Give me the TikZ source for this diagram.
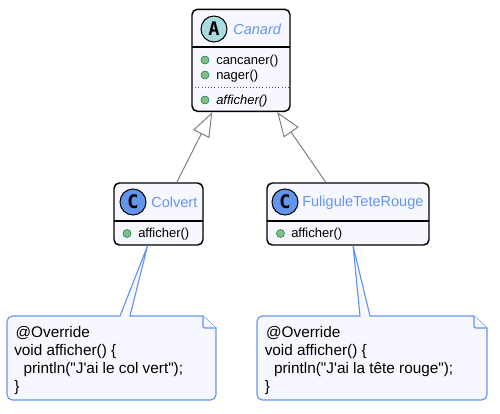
\documentclass[tikz,border=0pt]{standalone}
\usepackage{fontspec}
\setmainfont{Liberation Sans}
\newfontfamily\notefont{Liberation Sans}
\newfontfamily\spotfont{DejaVu Sans Mono}
\usetikzlibrary{arrows.meta}
\definecolor{qblue}{RGB}{100,149,237}
\definecolor{qfill}{RGB}{247,248,255}
\definecolor{qspotA}{RGB}{169,220,223}
\definecolor{qdot}{RGB}{132,190,132}
\definecolor{qdotline}{RGB}{3,128,72}
\definecolor{qgray}{RGB}{128,128,128}
\tikzset{
  classbox/.style={draw=black,fill=qfill,line width=1.1pt,rounded corners=4pt,inner sep=0pt},
  sepline/.style={draw=black,line width=0.9pt},
  spot/.style={circle,draw=black,line width=0.75pt,minimum size=19.5pt,inner sep=0pt,text=black,font=\spotfont\bfseries\fontsize{14}{14}\selectfont},
  classname/.style={anchor=west,inner sep=0pt,text=qblue,font=\fontsize{10.9}{13}\selectfont},
  member/.style={anchor=west,inner sep=0pt,text=black,font=\fontsize{9.75}{12}\selectfont},
  bullet/.style={circle,draw=qdotline,fill=qdot,line width=0.4pt,minimum size=6pt,inner sep=0pt},
  extends/.style={draw=qgray,line width=0.75pt,-{Triangle[open,fill=white,length=18.5pt,width=13.5pt]}},
  notebox/.style={draw=qblue,fill=qfill,line width=0.85pt},
  notetext/.style={anchor=north west,inner sep=0pt,align=left,text=black,font=\notefont\fontsize{11.5}{13.5}\selectfont}
}

\begin{document}
\begin{tikzpicture}[x=0.75pt,y=-0.75pt]
\useasboundingbox (0,0) rectangle (500,414);

%class boxes
\node[classbox,minimum width=73.5pt,minimum height=76.5pt] (canard) at (241,60.3) {};
\node[classbox,minimum width=66.75pt,minimum height=46.5pt] (colvert) at (158.5,214) {};
\node[classbox,minimum width=121.5pt,minimum height=46.5pt] (fuligule) at (348,214) {};

%canard content
\node[spot,fill=qspotA] (canardSpot) at (214,29) {A};
\node[classname,font=\itshape\fontsize{10.9}{13}\selectfont] (canardName) at (233,29.5) {Canard};
\draw[sepline] (192,47) -- (290,47);
\node[bullet] (canardDotA) at (205,60) {};
\node[member] (canardOpA) at (216,61) {cancaner()};
\node[bullet] (canardDotB) at (205,75) {};
\node[member] (canardOpB) at (216,76) {nager()};
\draw[black!70,line width=0.4pt,dotted] (192,87) -- (290,87);
\node[bullet] (canardDotC) at (205,100) {};
\node[member,font=\itshape\fontsize{9.75}{12}\selectfont] (canardOpC) at (216,101) {afficher()};

%colvert content
\node[spot,fill=qblue] (colvertSpot) at (133,202) {C};
\node[classname] (colvertName) at (151,202.5) {Colvert};
\draw[sepline] (114,221) -- (203,221);
\node[bullet] (colvertDot) at (127,233.5) {};
\node[member] (colvertOp) at (138,234.5) {afficher()};

%fuligule content
\node[spot,fill=qblue] (fuliguleSpot) at (285,202) {C};
\node[classname] (fuliguleName) at (302,202.5) {FuliguleTeteRouge};
\draw[sepline] (267,221) -- (429,221);
\node[bullet] (fuliguleDot) at (280.5,233.5) {};
\node[member] (fuliguleOp) at (291,234.5) {afficher()};

%inheritance
\draw[extends] (colvert.60.5) -- (canard.241.5);
\draw[extends] (fuligule.125.4) -- (canard.305);

%notes
\draw[notebox] (130,316) -- (203,316) -- (216,328) [rounded corners=4pt] -- (216,400) -- (7,400) -- (7,316) [sharp corners] -- (120,316) -- (colvert.251) -- cycle;
\draw[notebox,rounded corners=1.5pt] (203,316) -- (203,328) -- (216,328);
\node[notetext] (colvertNote) at (14,326.3) {\hspace*{1pt}@Override\\void afficher() \{\\\hspace*{7pt}println("J'ai le col vert");\\\}};

\draw[notebox] (370,316) -- (474,316) -- (487,328) [rounded corners=4pt] -- (487,400) -- (257,400) -- (257,316) [sharp corners] -- (360,316) -- (fuligule.279) -- cycle;
\draw[notebox,rounded corners=1.5pt] (474,316) -- (474,328) -- (487,328);
\node[notetext] (fuliguleNote) at (264.5,326.3) {\hspace*{1pt}@Override\\void afficher() \{\\\hspace*{7pt}println("J'ai la tête rouge");\\\}};

\end{tikzpicture}
\end{document}
